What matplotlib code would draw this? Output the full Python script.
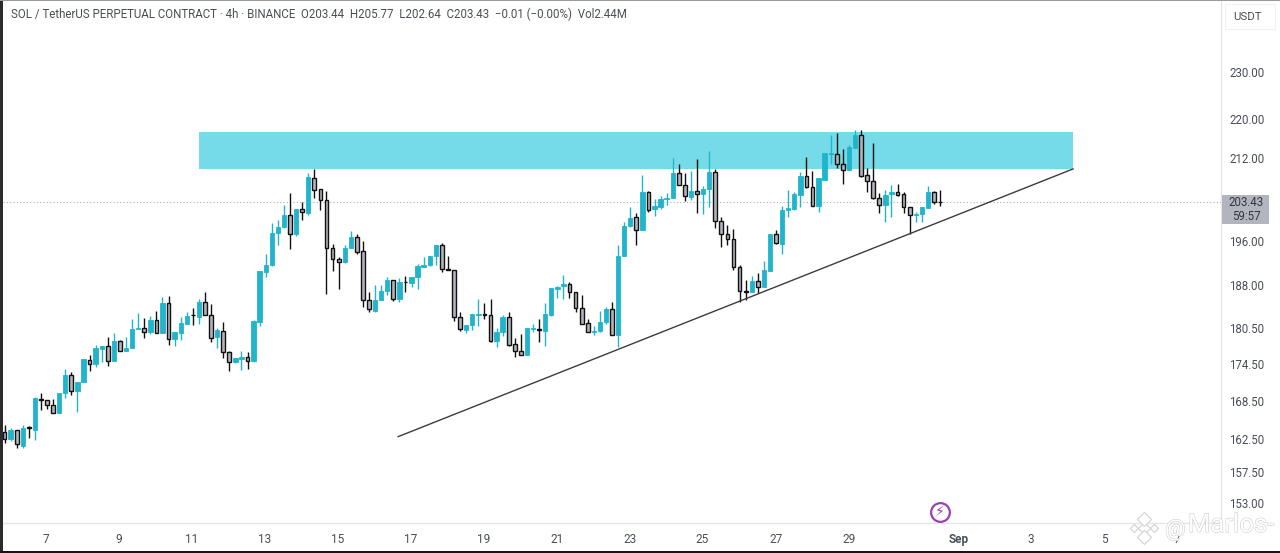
import numpy as np
import matplotlib
matplotlib.use('Agg')
import matplotlib.pyplot as plt
import matplotlib.patheffects as pe
from matplotlib.patches import Rectangle

# 4h candles
opens = [163.6,162.6,164.0,161.5,164.4,164.0,168.8,168.7,167.9,166.6,
         169.7,172.7,170.1,171.6,175.2,174.5,177.0,177.5,175.0,178.3,
         176.6,177.1,180.4,180.6,179.9,181.9,179.7,184.8,178.7,179.7,
         181.3,182.8,182.4,185.0,182.8,179.0,180.1,176.5,174.8,175.3,
         175.7,175.0,181.6,190.4,191.6,197.5,198.6,200.9,197.3,202.0,
         201.3,208.1,205.9,203.7,194.7,192.7,192.1,194.8,196.7,194.1,
         185.3,183.5,185.4,187.0,188.9,185.6,188.6,188.4,189.4,191.3,
         191.6,193.2,195.2,190.9,190.8,182.4,180.2,181.0,182.8,182.9,
         182.8,178.4,179.9,182.4,177.8,176.6,176.0,180.4,180.4,180.1,
         182.8,187.3,187.9,188.2,186.8,183.9,181.4,179.9,180.0,181.5,
         183.8,179.4,193.2,198.8,200.5,198.0,205.3,202.0,202.5,204.0,
         204.1,209.0,206.7,204.4,205.6,205.0,205.9,209.2,199.7,197.4,
         196.3,191.3,186.9,186.8,188.7,187.7,190.6,197.4,195.5,201.9,
         202.0,204.8,208.5,206.3,202.7,207.7,212.9,212.9,210.9,209.7,
         214.1,216.7,208.6,207.5,204.2,202.8,204.9,205.4,204.9,202.4,
         200.9,201.0,202.3,205.4,203.44]
highs = [164.7,164.3,164.0,164.7,164.6,169.1,169.8,168.7,168.8,169.8,
         173.6,173.1,171.6,175.3,175.9,177.6,177.5,179.0,179.6,178.5,
         179.0,182.1,183.1,182.3,182.6,183.4,185.9,186.0,179.8,182.4,
         183.2,184.0,185.5,186.7,184.6,180.5,181.6,176.7,175.4,176.6,
         176.4,181.9,190.5,193.6,199.4,199.9,202.8,205.1,202.0,203.3,
         209.1,209.9,205.9,205.6,195.5,193.1,195.3,197.8,197.4,196.0,
         186.7,188.0,188.0,189.4,189.0,189.2,189.6,189.5,191.8,193.1,
         193.3,195.3,195.6,193.2,190.8,183.2,181.1,182.9,185.5,184.8,
         185.6,180.5,182.8,183.2,178.8,179.5,180.5,181.3,182.1,184.9,
         187.5,187.8,189.9,188.6,186.8,186.3,182.0,180.8,183.4,184.2,
         185.1,195.3,199.6,202.4,201.2,208.7,205.6,203.9,204.6,205.1,
         212.1,210.8,209.1,209.5,211.9,206.4,213.4,209.8,200.5,199.1,
         198.2,191.6,189.0,189.6,190.1,192.4,197.4,198.1,202.6,205.8,
         205.4,209.3,212.3,209.5,208.0,213.0,216.6,217.2,213.9,214.7,
         217.8,217.8,210.0,215.0,205.1,205.8,206.7,206.8,205.4,202.4,
         201.4,202.4,206.4,205.6,205.77]
lows = [161.9,162.3,161.2,161.2,162.7,162.4,167.0,167.2,166.6,166.6,
        168.9,169.5,166.8,171.6,173.4,174.0,174.8,174.2,175.0,176.6,
        176.6,177.1,180.4,178.8,179.5,179.7,179.7,177.7,177.4,178.5,
        181.3,181.1,181.2,182.8,178.2,177.2,175.5,173.3,174.7,173.5,
        173.7,174.9,180.8,189.5,191.4,195.2,198.4,194.6,196.9,199.9,
        200.9,204.1,201.9,186.4,190.5,187.3,192.0,194.7,193.6,184.2,
        183.2,183.2,185.4,186.3,185.2,185.1,186.7,187.7,187.3,191.3,
        191.5,191.6,190.4,190.8,181.7,180.1,179.7,180.2,180.8,182.0,
        178.1,177.3,179.1,177.5,175.6,175.9,175.9,179.9,178.2,177.4,
        182.6,185.7,185.5,185.7,183.3,181.3,179.8,179.3,179.9,181.3,
        179.4,177.3,193.2,198.6,195.3,198.0,201.5,200.7,202.0,202.8,
        204.1,206.7,203.5,203.8,201.3,201.0,202.5,198.4,195.0,195.3,
        190.8,185.1,185.4,186.7,186.6,187.6,190.6,195.4,193.7,200.5,
        201.9,202.5,206.1,202.7,201.5,207.7,210.9,210.1,206.9,209.7,
        214.0,208.3,205.4,204.0,201.2,199.6,200.5,204.6,201.2,197.4,
        199.6,199.6,202.3,203.0,202.64]
closes = [162.6,164.0,161.7,164.2,164.3,168.9,168.7,167.9,166.6,169.8,
          172.7,170.1,171.6,175.3,174.5,177.1,177.5,175.0,178.3,176.6,
          177.1,180.4,180.6,179.9,181.9,179.7,184.8,178.7,179.8,181.4,
          182.6,182.7,185.0,182.8,178.9,180.2,176.5,174.8,175.4,175.6,
          175.0,181.7,190.5,191.6,197.6,198.7,200.9,197.4,202.0,201.4,
          208.2,205.8,203.7,194.7,192.7,192.1,194.8,196.7,194.0,185.3,
          183.8,185.4,187.0,188.9,185.6,188.5,188.5,189.5,191.5,191.6,
          193.3,195.3,190.9,190.8,182.4,180.3,181.1,182.9,182.9,182.8,
          178.4,179.9,182.5,177.7,176.6,176.0,180.5,180.6,180.2,182.9,
          187.5,187.7,188.2,186.8,183.9,181.3,179.9,180.1,181.6,183.8,
          179.4,193.2,198.8,200.4,198.0,205.3,201.9,202.6,204.0,204.1,
          209.1,206.7,204.5,205.6,205.0,205.9,209.2,199.7,197.4,196.3,
          191.3,186.9,186.7,188.8,187.7,190.7,197.4,195.6,201.9,202.2,
          204.9,208.5,206.3,202.7,208.0,213.0,213.1,210.9,209.7,214.2,
          216.7,208.5,207.4,204.2,202.8,204.8,205.3,204.8,202.4,200.9,
          201.1,202.4,205.4,203.3,203.43]

price_ticks = [230, 220, 212, 196, 188, 180.5, 174.5, 168.5, 162.5, 157.5, 153]
date_labels = ['7', '9', '11', '13', '15', '17', '19', '21', '23', '25', '27', '29', 'Sep', '3', '5', '7']
date_pos = [6.83, 18.85, 30.85, 42.85, 54.85, 66.9, 78.9, 90.9, 102.9, 114.9, 126.95, 139.0, 157.0, 169.0, 181.0, 193.0]

last_price = 203.43
zone_low, zone_high = 209.85, 217.4
zone_start, zone_end = 32.0, 175.9
trend_x = [64.8, 175.9]
trend_y = [162.9, 209.85]

header = 'SOL / TetherUS PERPETUAL CONTRACT · 4h · BINANCE  O203.44  H205.77  L202.64  C203.43  −0.01 (−0.00%)  Vol2.44M'

UP = '#22b4cb'
DOWN = '#b2b5be'
TXT = '#4a4e57'
plt.rcParams['font.family'] = ['Roboto', 'DejaVu Sans']

W, H = 1280, 553
fig = plt.figure(figsize=(W / 100, H / 100), dpi=100)
ax = fig.add_axes([3 / W, 1 - 523 / H, 1218 / W, 522 / H])
ax.set_yscale('log')
ax.set_xlim(-0.25, 200.25)
ax.set_ylim(150.12, 245.98)

ax.add_patch(Rectangle((zone_start, zone_low), zone_end - zone_start, zone_high - zone_low,
                       facecolor='#75dbe9', edgecolor='none', zorder=1))
ax.axhline(last_price, color='#a9adb5', lw=0.8, ls=(0, (1, 2)), zorder=1.5)

x = np.arange(len(opens))
o, h, l, c = map(np.array, (opens, highs, lows, closes))
up = c >= o
ax.vlines(x[up], l[up], h[up], color=UP, lw=1, zorder=2)
ax.vlines(x[~up], l[~up], h[~up], color='#111111', lw=1, zorder=2)
ax.bar(x[up], (c - o)[up], bottom=o[up], width=0.72, color=UP, edgecolor=UP, lw=0.6, zorder=3)
ax.bar(x[~up], (o - c)[~up], bottom=c[~up], width=0.62, color=DOWN, edgecolor='#111111', lw=1, zorder=3)

ax.plot(trend_x, trend_y, color='#3c3c3c', lw=1.0, zorder=4)

ax.yaxis.tick_right()
ax.set_yticks(price_ticks)
ax.set_yticklabels([f'{p:.2f}' for p in price_ticks])
ax.minorticks_off()
ax.tick_params(axis='y', length=0, pad=6, labelsize=8.3, labelcolor=TXT)
ax.set_xticks(date_pos)
ax.set_xticklabels(date_labels)
ax.tick_params(axis='x', length=0, pad=7, labelsize=8.5, labelcolor=TXT)
for lab in ax.get_xticklabels():
    if lab.get_text() == 'Sep':
        lab.set_fontweight('bold')
for name, sp in ax.spines.items():
    sp.set_visible(name in ('right', 'bottom'))
    sp.set_color('#e4e6eb')
    sp.set_linewidth(1)


def fx(px):
    return px / W


def fy(px):
    return 1 - px / H


# frame of the screenshot
fig.add_artist(Rectangle((0, 0), fx(3), 1, transform=fig.transFigure, color='#2b2b2b', lw=0))
fig.add_artist(Rectangle((0, 0), 1, 2 / H, transform=fig.transFigure, color='#151515', lw=0))
fig.add_artist(Rectangle((0, fy(1)), 1, 1 / H, transform=fig.transFigure, color='#9a9a9a', lw=0))

fig.text(fx(11), fy(14.5), header, fontsize=8.3, color=TXT, va='center', ha='left')

# price tag on the axis
fig.add_artist(Rectangle((fx(1222), fy(224)), 47 / W, 29 / H, transform=fig.transFigure, color=DOWN, lw=0))
fig.text(fx(1246), fy(202), f'{last_price:.2f}', fontsize=8.3, color='#33363d', ha='center', va='center')
fig.text(fx(1246), fy(216), '59:57', fontsize=8.3, color='#33363d', ha='center', va='center')

# USDT button
fig.add_artist(plt.Rectangle((fx(1225), fy(29)), 50 / W, 25 / H, transform=fig.transFigure,
                             facecolor='white', edgecolor='#f0f1f3', lw=0.8))
fig.text(fx(1247), fy(17), 'USDT', fontsize=8.2, color=TXT, ha='center', va='center')

# lightning badge
ax.plot([0.7693], [0.021], transform=ax.transAxes, marker='o', ms=13.5, mfc='white', mec='#9c3fb0', mew=1.6, zorder=5)
fig.text(fx(940), fy(512), '⚡', fontsize=10, color='#9c3fb0', ha='center', va='center', family='DejaVu Sans')

# watermark
stroke = [pe.withStroke(linewidth=0.7, foreground='#c8c8c8')]
fig.text(fx(1165), fy(529), '@', fontsize=16.5, color='white', ha='left', va='center',
         path_effects=stroke, zorder=10)
fig.text(fx(1188), fy(525), 'Marlos-', fontsize=18.5, color='white', ha='left', va='center',
         path_effects=stroke, zorder=10)
# binance logo: centre diamond, four around it
logo_px = [(1144, 528), (1144, 519), (1144, 537), (1134, 528), (1154, 528)]
logo_ms = [6, 7, 7, 4, 4]
for (px, py), ms in zip(logo_px, logo_ms):
    fig.add_artist(plt.Line2D([fx(px)], [fy(py)], transform=fig.transFigure, marker='D', ms=ms,
                              mfc='white', mec='#d2d2d2', mew=0.8, zorder=10))

fig.savefig('out.png', dpi=100)
